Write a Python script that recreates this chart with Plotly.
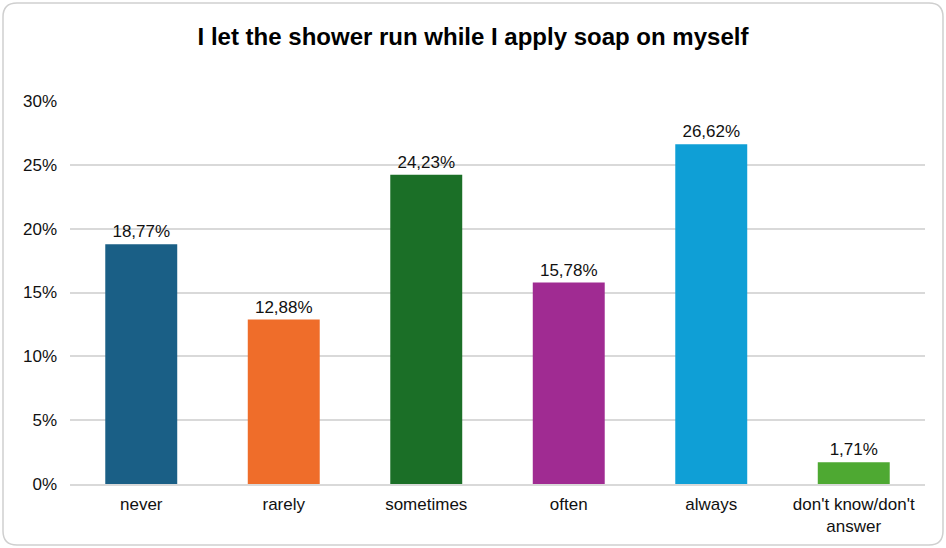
import plotly.graph_objects as go

categories = ["never", "rarely", "sometimes", "often", "always", "don't know/don't<br>answer"]
shares = [18.77, 12.88, 24.23, 15.78, 26.62, 1.71]
bar_colors = ["#1a5f86", "#ef6d2a", "#1b6f27", "#a02b92", "#0f9fd6", "#4ea932"]
y_ticks = [0, 5, 10, 15, 20, 25, 30]

W, H = 946, 548
L, R, T, B = 70, 21, 101, 64

fig = go.Figure(
    data=[
        go.Bar(
            x=categories,
            y=shares,
            marker=dict(color=bar_colors, line=dict(width=0)),
            texttemplate="%{y:.2f}%",
            textposition="outside",
            textfont=dict(size=17, color="#111111"),
            cliponaxis=False,
            width=0.505,
        )
    ],
    layout=go.Layout(
        width=W,
        height=H,
        separators=",.",
        paper_bgcolor="white",
        plot_bgcolor="white",
        font=dict(family="Liberation Sans, Arial, sans-serif", color="#111111", size=17),
        title=dict(
            text="<b>I let the shower run while I apply soap on myself</b>",
            x=0.5, xanchor="center", y=1 - 37 / H, yanchor="middle",
            font=dict(size=24, color="#000000"),
        ),
        margin=dict(l=L, r=R, t=T, b=B, autoexpand=False),
        showlegend=False,
        xaxis=dict(
            automargin=False,
            showgrid=False,
            showline=True,
            linecolor="#d9d9d9",
            linewidth=1.5,
            ticks="",
            ticklabelstandoff=4,
            tickfont=dict(size=17),
        ),
        yaxis=dict(
            automargin=False,
            range=[0, 30],
            tickmode="array",
            tickvals=y_ticks,
            ticktext=[f"{v}%" for v in y_ticks],
            showgrid=True,
            gridcolor="#d9d9d9",
            gridwidth=1.5,
            zeroline=False,
            showline=False,
            ticks="",
            ticklabelstandoff=12,
            tickfont=dict(size=17),
        ),
    ),
)

# rounded light-grey frame around the whole chart
pw, ph = W - L - R, H - T - B


def px(xp):
    return (xp - L) / pw


def py(yp):
    return (H - B - yp) / ph


rad = 14
x0, x1, y0, y1 = 3, 943, 3, 545
path = (
    f"M {px(x0 + rad):.5f},{py(y0):.5f} L {px(x1 - rad):.5f},{py(y0):.5f} "
    f"Q {px(x1):.5f},{py(y0):.5f} {px(x1):.5f},{py(y0 + rad):.5f} "
    f"L {px(x1):.5f},{py(y1 - rad):.5f} Q {px(x1):.5f},{py(y1):.5f} {px(x1 - rad):.5f},{py(y1):.5f} "
    f"L {px(x0 + rad):.5f},{py(y1):.5f} Q {px(x0):.5f},{py(y1):.5f} {px(x0):.5f},{py(y1 - rad):.5f} "
    f"L {px(x0):.5f},{py(y0 + rad):.5f} Q {px(x0):.5f},{py(y0):.5f} {px(x0 + rad):.5f},{py(y0):.5f} Z"
)
fig.add_shape(type="path", xref="paper", yref="paper", path=path,
              line=dict(color="#cfcfcf", width=1.5), layer="above")

# drop the default 8px body margin so the figure sits at the page origin
fig.write_html(
    "out.html",
    config={"displayModeBar": False},
    post_script="document.body.style.margin='0';",
)
